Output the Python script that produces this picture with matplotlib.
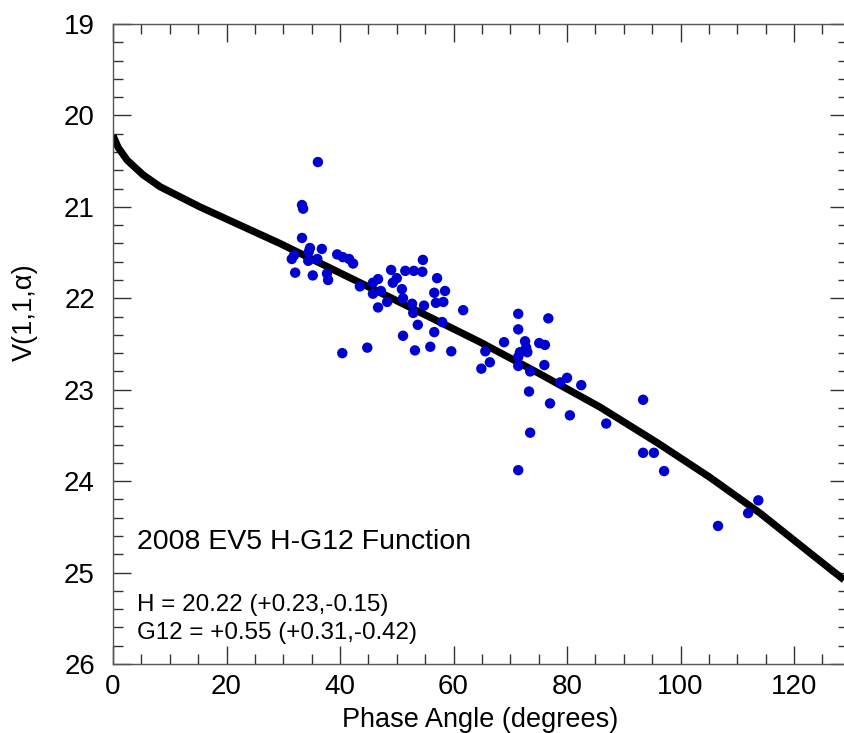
import numpy as np
import matplotlib
matplotlib.use('Agg')
import matplotlib.pyplot as plt
from matplotlib.ticker import MultipleLocator
from matplotlib import rc
rc('font', family=['Liberation Sans', 'DejaVu Sans'])

# =============================================
# Data
# =============================================

# observed reduced magnitudes
phase = [36.1, 33.3, 33.5, 33.3, 34.7, 34.5, 36.8, 31.9, 31.5, 34.4,
         36.0, 39.5, 40.5, 41.6, 42.3, 32.1, 35.2, 37.7, 37.9, 43.5,
         45.8, 46.7, 45.8, 47.2, 46.7, 48.3, 49.0, 50.0, 49.3, 50.9,
         51.1, 51.5, 53.0, 54.5, 54.6, 52.7, 52.9, 54.8, 57.1, 56.6,
         58.5, 56.9, 58.2, 61.7, 58.0, 53.7, 51.1, 56.6, 40.4, 44.8,
         53.2, 55.9, 59.6, 65.6, 66.4, 64.9, 71.4, 76.7, 71.4, 68.9,
         72.6, 75.1, 76.1, 71.7, 73.0, 72.8, 71.4, 71.4, 73.5, 76.0,
         78.8, 80.0, 82.5, 73.3, 77.0, 80.5, 73.5, 71.4, 86.9, 93.4,
         93.4, 95.3, 97.1, 106.6, 111.9, 113.7]
vmag = [20.51, 20.98, 21.02, 21.34, 21.45, 21.49, 21.46, 21.53, 21.57, 21.59,
        21.57, 21.52, 21.55, 21.57, 21.62, 21.72, 21.75, 21.73, 21.80, 21.87,
        21.83, 21.79, 21.95, 21.92, 22.10, 22.04, 21.69, 21.78, 21.83, 21.90,
        22.00, 21.70, 21.70, 21.71, 21.58, 22.06, 22.16, 22.08, 21.78, 21.94,
        21.92, 22.05, 22.04, 22.13, 22.26, 22.29, 22.41, 22.37, 22.60, 22.54,
        22.57, 22.53, 22.58, 22.58, 22.70, 22.77, 22.17, 22.22, 22.34, 22.48,
        22.47, 22.49, 22.51, 22.59, 22.59, 22.54, 22.64, 22.74, 22.80, 22.73,
        22.92, 22.87, 22.95, 23.02, 23.15, 23.28, 23.47, 23.88, 23.37, 23.11,
        23.69, 23.69, 23.89, 24.49, 24.35, 24.21]

# H-G12 fit curve
fit_phase = [0.0, 0.9, 2.5, 5.3, 8.3, 11.8, 15.3, 22.0, 29.4, 48.8, 64.7,
             75.0, 85.8, 95.9, 105.2, 114.0, 123.3, 128.8]
fit_vmag = [20.22, 20.35, 20.49, 20.65, 20.78, 20.89, 21.00, 21.19, 21.40, 21.99, 22.48,
            22.82, 23.19, 23.58, 23.96, 24.35, 24.81, 25.08]

title_txt = '2008 EV5 H-G12 Function'
h_txt = 'H = 20.22 (+0.23,-0.15)'
g_txt = 'G12 = +0.55 (+0.31,-0.42)'

# =============================================
# Plot
# =============================================

fig = plt.figure(figsize=(8.44, 7.33), dpi=100)
ax = fig.add_axes([113/844, 1 - 664/733, 735/844, 640/733])

ax.plot(fit_phase, fit_vmag, color='black', lw=5.2, solid_capstyle='butt', zorder=2)
ax.scatter(phase, vmag, s=56, color='#0000d0', edgecolors='none', zorder=3)

ax.set_xlim(0, 129.5)
ax.set_ylim(26, 19)
ax.xaxis.set_major_locator(MultipleLocator(20))
ax.xaxis.set_minor_locator(MultipleLocator(5))
ax.yaxis.set_major_locator(MultipleLocator(1))
ax.yaxis.set_minor_locator(MultipleLocator(0.2))
ax.tick_params(which='both', direction='in', top=True, right=True,
               color='#333333', labelsize=20)
ax.tick_params(axis='x', which='both', pad=7)
ax.tick_params(axis='y', which='both', pad=13)
ax.tick_params(which='major', length=13, width=1)
ax.tick_params(which='minor', length=7, width=1)
for sp in ax.spines.values():
    sp.set_color('#555555')
    sp.set_linewidth(1)

ax.set_xlabel('Phase Angle (degrees)', fontsize=19.5, labelpad=5)
ax.set_ylabel('V(1,1,α)', fontsize=19.5)
ax.yaxis.set_label_coords(-0.102, 0.55)

ax.text(4.2, 24.74, title_txt, fontsize=20.5, va='baseline', ha='left')
ax.text(4.2, 25.42, h_txt, fontsize=17.4, va='baseline', ha='left')
ax.text(4.2, 25.73, g_txt, fontsize=17.4, va='baseline', ha='left')

fig.savefig('out.png', dpi=100)
